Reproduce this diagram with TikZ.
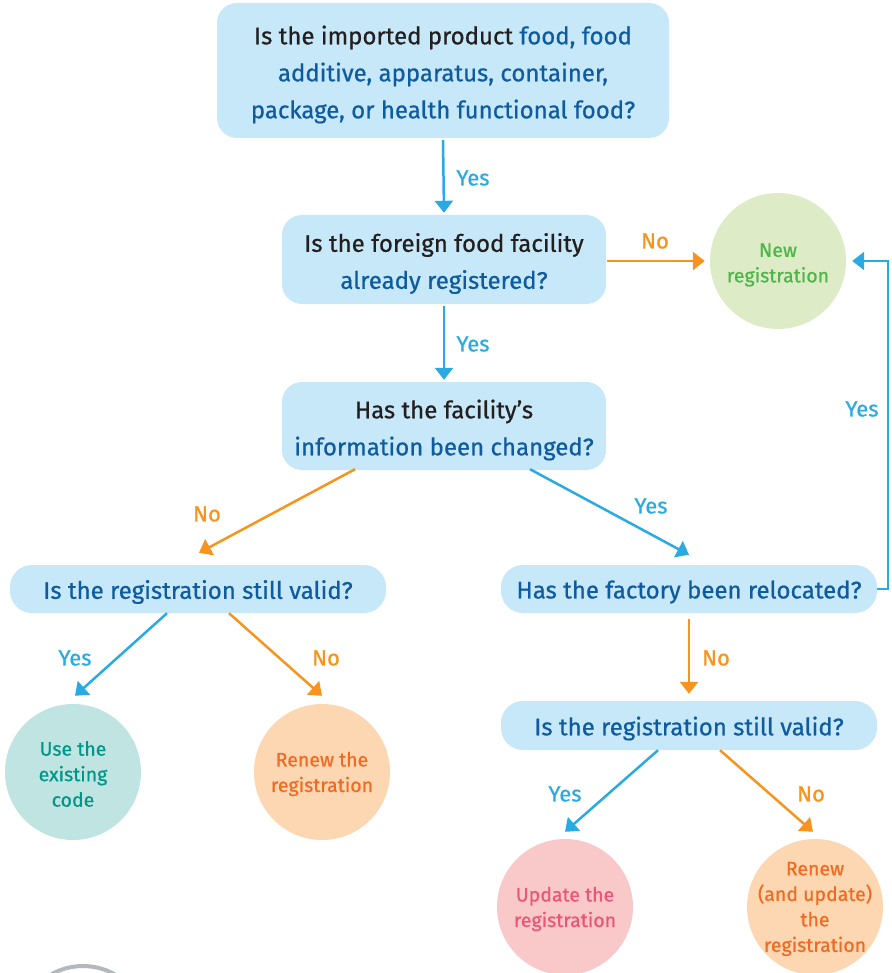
\documentclass[tikz,border=0pt]{standalone}
\usepackage{fontspec}
\setmainfont{Fira Sans}[FakeBold=0.7]
\usetikzlibrary{arrows.meta,calc}
\definecolor{boxfill}{HTML}{C7E8F8}
\definecolor{darktxt}{HTML}{231F20}
\definecolor{navytxt}{HTML}{0E5BA0}
\definecolor{ablue}{HTML}{29ABE2}
\definecolor{aorange}{HTML}{F7941D}
\definecolor{newfill}{HTML}{DDEBC6}
\definecolor{newtxt}{HTML}{4CB748}
\definecolor{usefill}{HTML}{BFE4E1}
\definecolor{usetxt}{HTML}{00968A}
\definecolor{renfill}{HTML}{FDD7B2}
\definecolor{rentxt}{HTML}{F26A21}
\definecolor{updfill}{HTML}{F9C9C9}
\definecolor{updtxt}{HTML}{EE5475}
\definecolor{logogray}{HTML}{B3B8BC}
\tikzset{
  qbox/.style={fill=boxfill, rounded corners=20pt, inner sep=0pt},
  qtext/.style={align=center, inner sep=0pt, text=navytxt,
    font=\fontsize{24}{37}\selectfont, yshift=-4pt},
  endcirc/.style={circle, minimum size=136pt, inner sep=0pt},
  ctext/.style={align=center, inner sep=0pt, yshift=-2pt,
    font=\fontsize{19.5}{25.5}\selectfont},
  barrow/.style={draw=ablue, line width=2.5pt, -{Triangle[width=18pt,length=12pt]}},
  oarrow/.style={draw=aorange, line width=2.5pt, -{Triangle[width=18pt,length=12pt]}},
  ylab/.style={text=ablue, font=\fontsize{22}{25}\selectfont},
  nlab/.style={text=aorange, font=\fontsize{22}{25}\selectfont},
}
\begin{document}
\begin{tikzpicture}[x=1pt,y=-1pt]
\useasboundingbox (0,0) rectangle (891,973);
\begin{scope}
\clip (0,0) rectangle (891,973);
\draw[logogray, line width=4pt] (83,1030) circle (64);
\end{scope}

% question boxes
\node[qbox, minimum width=452pt, minimum height=135pt,
  label={[qtext]center:{\color{darktxt}Is the imported product} food, food\\additive, apparatus, container,\\package, or health functional food?}] (b1) at (443,70.5) {};
\node[qbox, minimum width=324pt, minimum height=89pt,
  label={[qtext]center:{\color{darktxt}Is the foreign food facility}\\already registered?}] (b2) at (444,259.5) {};
\node[qbox, minimum width=324pt, minimum height=88pt,
  label={[qtext]center:{\color{darktxt}Has the facility's}\\information been changed?}] (b3) at (444,426) {};
\node[qbox, minimum width=376pt, minimum height=48pt, rounded corners=22pt,
  label={[qtext,yshift=1pt]center:Is the registration still valid?}] (b4) at (198,589) {};
\node[qbox, minimum width=376pt, minimum height=48pt, rounded corners=22pt,
  label={[qtext,yshift=1pt]center:Has the factory been relocated?}] (b5) at (689,589) {};
\node[qbox, minimum width=376pt, minimum height=49pt, rounded corners=22pt,
  label={[qtext,yshift=1pt]center:Is the registration still valid?}] (b6) at (689,725.5) {};

% end circles
\node[endcirc, fill=newfill,
  label={[ctext,text=newtxt,yshift=-2pt]center:New\\registration}] (new) at (778,261) {};
\node[endcirc, fill=usefill,
  label={[ctext,text=usetxt]center:Use the\\existing\\code}] (use) at (73,772) {};
\node[endcirc, fill=renfill,
  label={[ctext,text=rentxt]center:Renew the\\registration}] (ren) at (322,772) {};
\node[endcirc, fill=updfill,
  label={[ctext,text=updtxt]center:Update the\\registration}] (upd) at (565,907) {};
\node[endcirc, fill=renfill,
  label={[ctext,text=rentxt]center:Renew\\(and update)\\the\\registration}] (ren2) at (815,907) {};

% connectors
\draw[barrow] ([yshift=-2pt]b1.south) -- ([yshift=2pt]b2.north);
\node[ylab] (l1) at (473,178) {Yes};
\draw[oarrow] ([xshift=1pt]b2.east |- 0,261) -- ([xshift=-5pt]new.west);
\node[nlab] (l2) at (655,241) {No};
\draw[barrow] ([yshift=-2pt]b2.south) -- ([yshift=2pt]b3.north);
\node[ylab] (l3) at (473,344) {Yes};
\draw[oarrow] ([xshift=-89pt,yshift=1pt]b3.south) -- ([xshift=1pt,yshift=12pt]b4.north);
\node[nlab] (l4) at (207,514) {No};
\draw[barrow] ([xshift=86pt,yshift=1pt]b3.south) -- ([yshift=10pt]b5.north);
\node[ylab] (l5) at (651,506) {Yes};
\coordinate (loopc) at (888,589);
\draw[barrow] (b5.east) -- (loopc) -- (loopc |- new.east) -- ([xshift=6pt]new.east);
\node[ylab] (l6) at (862,409) {Yes};
\draw[barrow] ([xshift=-31pt]b4.south) -- ([xshift=2pt,yshift=8pt]use.north);
\node[ylab] (l7) at (75,658) {Yes};
\draw[oarrow] ([xshift=31pt]b4.south) -- ([yshift=8pt]ren.north);
\node[nlab] (l8) at (326,658) {No};
\draw[oarrow] ([yshift=-6pt]b5.south) -- ([yshift=7pt]b6.north);
\node[nlab] (l9) at (716,658) {No};
\draw[barrow] ([xshift=-31pt]b6.south) -- ([yshift=7pt]upd.north);
\node[ylab] (l10) at (565,794) {Yes};
\draw[oarrow] ([xshift=31pt]b6.south) -- ([xshift=-2pt,yshift=7pt]ren2.north);
\node[nlab] (l11) at (811,794) {No};
\end{tikzpicture}
\end{document}
